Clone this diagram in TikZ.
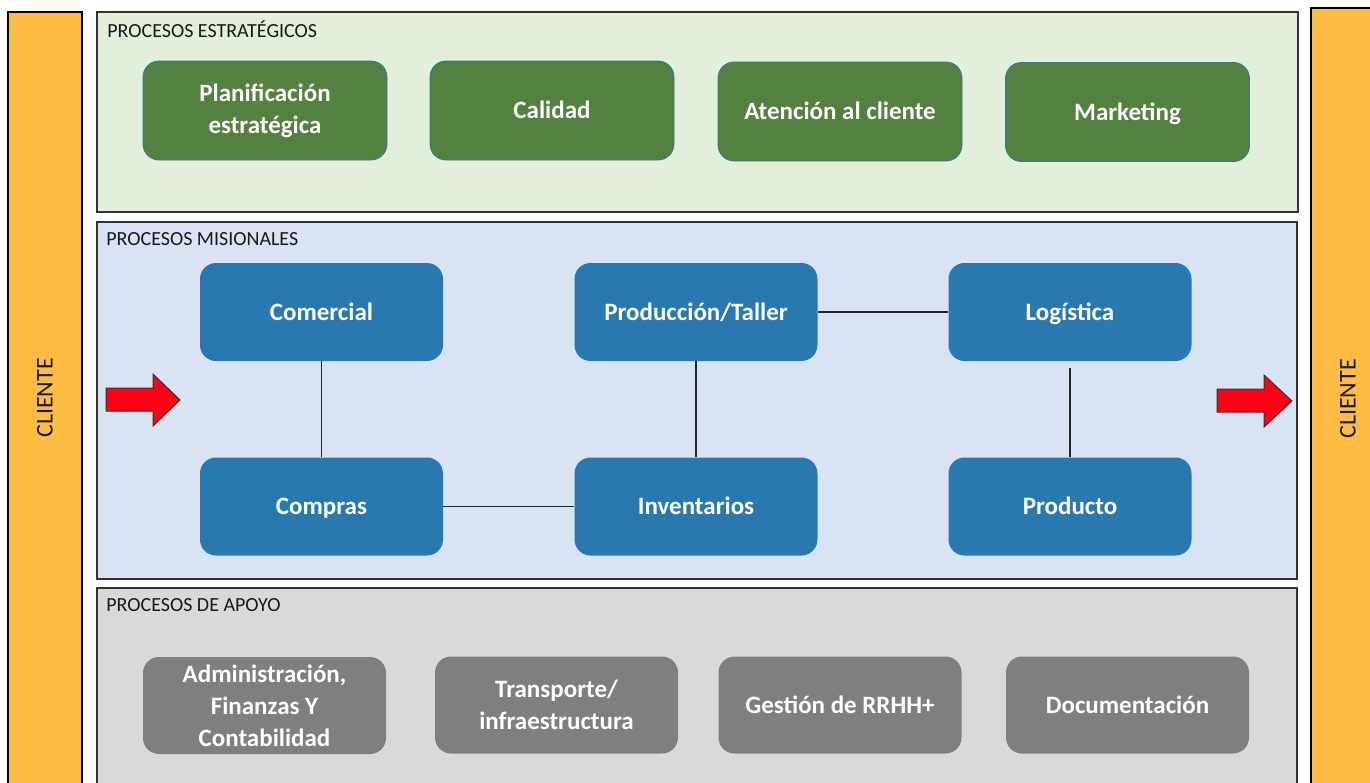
\documentclass[tikz,border=0pt]{standalone}
\usepackage{fontspec}
\setmainfont{Carlito}
\definecolor{orangebar}{RGB}{254,188,66}
\definecolor{greenpanel}{RGB}{226,239,218}
\definecolor{bluepanel}{RGB}{218,227,243}
\definecolor{greypanel}{RGB}{217,217,217}
\definecolor{greenbox}{RGB}{83,129,64}
\definecolor{greenedge}{RGB}{65,113,156}
\definecolor{bluebox}{RGB}{42,120,176}
\definecolor{greybox}{RGB}{127,127,127}
\definecolor{redarrow}{RGB}{255,0,20}
\tikzset{
  panel/.style={draw=black!80, line width=0.7pt},
  bar/.style={draw=black, line width=0.7pt, fill=orangebar},
  boxbase/.style={rounded corners=8pt, align=center, text=white, inner sep=0pt,
    font=\fontsize{12.5}{16}\selectfont\bfseries},
  oneline/.style={text height=9pt, text depth=1pt},
  gbox/.style={boxbase, fill=greenbox, draw=greenedge, line width=0.4pt, minimum width=122pt, minimum height=49.5pt},
  bbox/.style={boxbase, oneline, fill=bluebox, minimum width=121.5pt, minimum height=49pt},
  ybox/.style={boxbase, fill=greybox, minimum width=121.5pt, minimum height=48.5pt},
  ptitle/.style={anchor=west, inner sep=0pt, font=\fontsize{10}{12}\selectfont, text=black!90},
  clabel/.style={rotate=90, inner sep=0pt, font=\fontsize{12}{14}\selectfont, text=black!90},
  link/.style={draw=black!85, line width=0.6pt},
  redarr/.style={fill=redarrow, draw=black!80, line width=0.5pt, line join=miter}
}
\begin{document}
\begin{tikzpicture}[x=0.5pt,y=-0.5pt]
\useasboundingbox (0,0) rectangle (1370,782);
% client bars
\draw[bar] (8,12) rectangle (82,790);
\draw[bar] (1311,8) rectangle (1380,790);
\node[clabel] (cl) at (45,398) {CLIENTE};
\node[clabel] (cr) at (1348,399) {CLIENTE};
% panels
\draw[panel, fill=greenpanel] (97,12) rectangle (1298,212);
\draw[panel, fill=bluepanel] (97,222) rectangle (1297,579);
\draw[panel, fill=greypanel] (97,588) rectangle (1297,790);
\node[ptitle] (t1) at (107,29) {PROCESOS ESTRATÉGICOS};
\node[ptitle] (t2) at (106,239) {PROCESOS MISIONALES};
\node[ptitle] (t3) at (106,605) {PROCESOS DE APOYO};
% strategic
\node[gbox] (plan) at (265,110.5) {Planificación\\estratégica};
\node[gbox, oneline] (cal) at (552,110.5) {Calidad};
\node[gbox, oneline] (aten) at (840,111.5) {Atención al cliente};
\node[gbox, oneline] (mkt) at (1127.5,112) {Marketing};
% missional
\node[bbox] (com) at (321.5,312) {Comercial};
\node[bbox] (compras) at (321.5,506.5) {Compras};
\node[bbox] (prod) at (696,312) {Producción/Taller};
\node[bbox] (inv) at (696,506.5) {Inventarios};
\node[bbox] (log) at (1070,312) {Logística};
\node[bbox] (pto) at (1070,506.5) {Producto};
\draw[link] (com) -- (compras);
\draw[link] (compras) -- (inv);
\draw[link] (prod) -- (inv);
\draw[link] (prod) -- (log);
\draw[link] ([yshift=-3.5pt]log.south) -- (pto.north);
% support
\node[ybox] (adm) at (264.5,705.5) {Administración,\\Finanzas Y\\Contabilidad};
\node[ybox] (tra) at (556.5,705) {Transporte/\\infraestructura};
\node[ybox, oneline] (ges) at (840,705) {Gestión de RRHH+};
\node[ybox, oneline] (doc) at (1127.5,705) {Documentación};
% red arrows
\draw[redarr] (106,388) -- (153,388) -- (153,374) -- (180,400) -- (153,426) -- (153,411) -- (106,411) -- cycle;
\draw[redarr] (1217,389) -- (1264,389) -- (1264,375) -- (1292,401) -- (1264,427) -- (1264,412) -- (1217,412) -- cycle;
\end{tikzpicture}
\end{document}
